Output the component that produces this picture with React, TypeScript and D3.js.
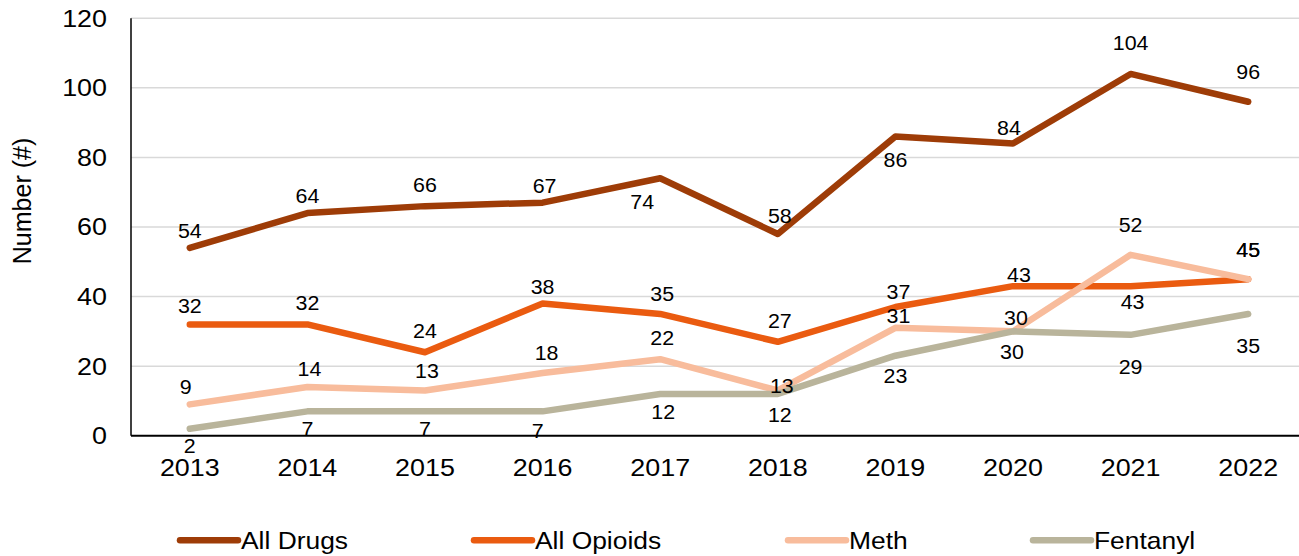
import React from "react";
import * as d3 from "d3";

const years = ["2013", "2014", "2015", "2016", "2017", "2018", "2019", "2020", "2021", "2022"];
const allDrugs = [54, 64, 66, 67, 74, 58, 86, 84, 104, 96];
const allOpioids = [32, 32, 24, 38, 35, 27, 37, 43, 43, 45];
const meth = [9, 14, 13, 18, 22, 13, 31, 30, 52, 45];
const fentanyl = [2, 7, 7, 7, 12, 12, 23, 30, 29, 35];
const yTicks = [0, 20, 40, 60, 80, 100, 120];
const seriesNames = ["All Drugs", "All Opioids", "Meth", "Fentanyl"];

// label placement offsets (style)
const labelDy = [
  [-17, -17, -21, -17, 23, -18, 23, -16, -31, -30],
  [-19, -22, -21, -17, -20, -21, -15, -11, 16, -29],
  [-18, -18, -20, -20, -21, -5, -12, -14, -30, -29],
  [17, 17, 17, 19, 18, 21, 20, 20, 32, 32],
];
const labelDx = [
  [0, 0, 0, 2, -18, 2, 0, -4, 0, 0],
  [0, 0, 0, 0, 2, 2, 3, 6, 2, 0],
  [-4, 2, 2, 4, 2, 4, 3, 3, 0, 0],
  [0, 0, 0, -5, 3, 2, 0, -1, 0, 0],
];

const colors = ["#9E3C07", "#EA5B10", "#F8BC9C", "#B9B49B"];
const W = 1299;
const H = 556;
const FONT = "'Liberation Sans', Arial, sans-serif";

function SText({ x, y, size, sx, anchor, children, weight }: any) {
  return (
    <g transform={`translate(${x},${y}) scale(${sx},1)`}>
      <text
        x={0}
        y={0}
        fontSize={size}
        fontFamily={FONT}
        textAnchor={anchor}
        dominantBaseline="central"
        fill="#000"
        fontWeight={weight || "normal"}
      >
        {children}
      </text>
    </g>
  );
}

export default function App() {
  const data = [allDrugs, allOpioids, meth, fentanyl];
  const x = d3.scaleBand<string>().domain(years).range([131, 1307]);
  const y = d3.scaleLinear().domain([0, 120]).range([435.7, 18.3]);
  const cx = (yr: string) => (x(yr) as number) + x.bandwidth() / 2;
  const line = d3
    .line<number>()
    .x((_, i) => cx(years[i]))
    .y((v) => y(v));

  const legendSwatch = [180, 474, 788, 1033];

  return (
    <svg
      width={W}
      height={H}
      style={{ position: "absolute", left: 0, top: 0, background: "#fff" }}
    >
      <rect x={0} y={0} width={W} height={H} fill="#fff" />
      {yTicks.filter((t) => t > 0).map((t) => (
        <line key={t} x1={131} x2={1307} y1={y(t)} y2={y(t)} stroke="#D9D9D9" strokeWidth={1.5} />
      ))}
      <line x1={131} x2={131} y1={y(120)} y2={y(0)} stroke="#000" strokeWidth={1.5} />
      <line x1={131} x2={1307} y1={y(0)} y2={y(0)} stroke="#000" strokeWidth={2} />
      {yTicks.map((t) => (
        <SText key={t} x={107} y={y(t)} size={24} sx={1.12} anchor="end">
          {t}
        </SText>
      ))}
      {years.map((yr) => (
        <SText key={yr} x={cx(yr)} y={467.7} size={24} sx={1.12} anchor="middle">
          {yr}
        </SText>
      ))}
      <g transform="translate(22,201) rotate(-90)">
        <text x={0} y={0} fontSize={25} fontFamily={FONT} textAnchor="middle" dominantBaseline="central">
          Number (#)
        </text>
      </g>
      {data.map((d, si) => (
        <path
          key={si}
          d={line(d) || ""}
          fill="none"
          stroke={colors[si]}
          strokeWidth={6.5}
          strokeLinecap="round"
          strokeLinejoin="round"
        />
      ))}
      {data.map((d, si) =>
        d.map((v, i) => (
          <SText
            key={`${si}-${i}`}
            x={cx(years[i]) + labelDx[si][i]}
            y={y(v) + labelDy[si][i]}
            size={20}
            sx={1.07}
            anchor="middle"
          >
            {v}
          </SText>
        ))
      )}
      {seriesNames.map((n, i) => (
        <g key={n}>
          <line
            x1={legendSwatch[i]}
            x2={legendSwatch[i] + 58}
            y1={540.3}
            y2={540.3}
            stroke={colors[i]}
            strokeWidth={6.5}
            strokeLinecap="round"
          />
          <SText x={legendSwatch[i] + 61} y={540.3} size={24} sx={1.1} anchor="start">
            {n}
          </SText>
        </g>
      ))}
    </svg>
  );
}
